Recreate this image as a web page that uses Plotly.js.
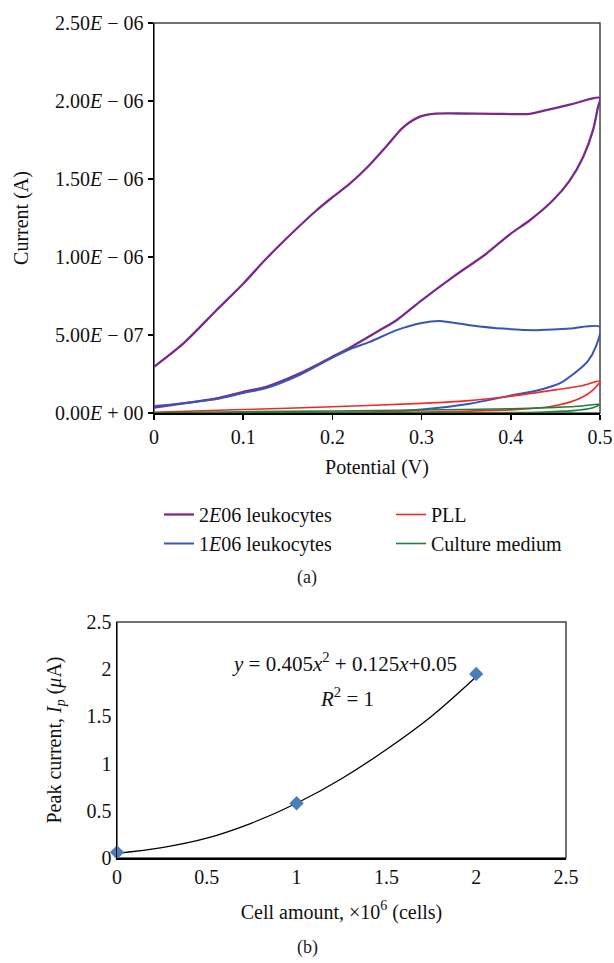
<!DOCTYPE html>
<html>
<head>
<meta charset="utf-8">
<script src="https://cdn.plot.ly/plotly-3.0.1.min.js"></script>
<style>
  html, body { margin: 0; padding: 0; background: #fff; }
  #chart { width: 614px; height: 963px; }
</style>
</head>
<body>
<div id="chart"></div>
<script>
// ---------- Panel (a): cyclic voltammograms (current in µA, labelled in A) ----------
const purpleX = [0, 0.033, 0.07, 0.1, 0.126, 0.1635, 0.2, 0.22, 0.253, 0.272, 0.3, 0.335, 0.3725, 0.4, 0.421, 0.447, 0.466, 0.481, 0.492, 0.4976, 0.5,
                 0.466, 0.436, 0.421, 0.38, 0.34, 0.313, 0.298, 0.279, 0.2606, 0.24, 0.2195, 0.2, 0.182, 0.156, 0.126, 0.1, 0.07, 0.033, 0];
const purpleY = [0.034, 0.062, 0.094, 0.136, 0.168, 0.254, 0.36, 0.42, 0.53, 0.595, 0.722, 0.871, 1.021, 1.15, 1.234, 1.362, 1.49, 1.64, 1.81, 1.958, 2.02,
                 1.976, 1.937, 1.918, 1.918, 1.92, 1.918, 1.9, 1.83, 1.71, 1.58, 1.47, 1.383, 1.298, 1.16, 0.99, 0.829, 0.659, 0.446, 0.296];

const blueX = [0, 0.033, 0.07, 0.1, 0.126, 0.1635, 0.2, 0.22, 0.242, 0.272, 0.3, 0.32, 0.354, 0.391, 0.4286, 0.466, 0.5,
               0.4957, 0.486, 0.468, 0.458, 0.447, 0.435, 0.423, 0.4, 0.354, 0.3, 0.25, 0.15, 0];
const blueY = [0.045, 0.063, 0.09, 0.128, 0.16, 0.245, 0.355, 0.41, 0.456, 0.531, 0.577, 0.59, 0.563, 0.541, 0.531, 0.541, 0.552,
               0.43, 0.33, 0.24, 0.2, 0.173, 0.152, 0.136, 0.112, 0.06, 0.022, 0.006, 0.0, 0.0];

const redX = [0, 0.1, 0.2, 0.3, 0.35, 0.4, 0.45, 0.48, 0.5,
              0.492, 0.473, 0.443, 0.4, 0.3, 0.2, 0];
const redY = [0.005, 0.022, 0.04, 0.062, 0.078, 0.108, 0.148, 0.175, 0.205,
              0.147, 0.083, 0.04, 0.02, 0.006, 0.003, 0.0];

const greenX = [0, 0.1, 0.2, 0.3, 0.4, 0.45, 0.48, 0.5,
                0.49, 0.47, 0.43, 0.35, 0.2, 0];
const greenY = [0.002, 0.008, 0.013, 0.019, 0.027, 0.036, 0.045, 0.056,
                0.03, 0.015, 0.005, 0.001, 0.0, 0.0];

const seriesNames = ['2<i>E</i>06 leukocytes', '1<i>E</i>06 leukocytes', 'PLL', 'Culture medium'];

const potentialTicks = [0, 0.1, 0.2, 0.3, 0.4, 0.5];
const potentialTickText = ['0', '0.1', '0.2', '0.3', '0.4', '0.5'];
const currentTicks = [0, 0.5, 1.0, 1.5, 2.0, 2.5];
const currentTickText = ['0.00<i>E</i> + 00', '5.00<i>E</i> − 07', '1.00<i>E</i> − 06',
                         '1.50<i>E</i> − 06', '2.00<i>E</i> − 06', '2.50<i>E</i> − 06'];

// ---------- Panel (b): peak current vs cell amount ----------
const cellAmount = [0, 1, 2];
const peakCurrent = [0.06, 0.58, 1.95];
// trend line
const trendX = [0, 0.25, 0.5, 0.75, 1, 1.25, 1.5, 1.75, 2];
const trendY = [0.05, 0.11, 0.21, 0.37, 0.58, 0.84, 1.15, 1.5, 1.92];
const cellTicks = [0, 0.5, 1, 1.5, 2, 2.5];
const cellTickText = ['0', '0.5', '1', '1.5', '2', '2.5'];
const peakTicks = [0, 0.5, 1, 1.5, 2, 2.5];
const peakTickText = ['0', '0.5', '1', '1.5', '2', '2.5'];

const FONT = '"Liberation Serif", "DejaVu Serif", serif';
const W = 614, H = 963;
const px = v => v / W;
const py = v => 1 - v / H;

const traces = [
  { x: purpleX, y: purpleY, name: seriesNames[0], type: 'scatter', mode: 'lines',
    line: { color: '#7A2A8C', width: 2.3, shape: 'spline', smoothing: 0.8 }, xaxis: 'x', yaxis: 'y', legend: 'legend' },
  { x: blueX, y: blueY, name: seriesNames[1], type: 'scatter', mode: 'lines',
    line: { color: '#3A55B4', width: 2, shape: 'spline', smoothing: 0.8 }, xaxis: 'x', yaxis: 'y', legend: 'legend' },
  { x: redX, y: redY, name: seriesNames[2], type: 'scatter', mode: 'lines',
    line: { color: '#F0282A', width: 1.6, shape: 'spline', smoothing: 0.8 }, xaxis: 'x', yaxis: 'y', legend: 'legend2' },
  { x: greenX, y: greenY, name: seriesNames[3], type: 'scatter', mode: 'lines',
    line: { color: '#1F7F3A', width: 1.6, shape: 'spline', smoothing: 0.8 }, xaxis: 'x', yaxis: 'y', legend: 'legend2' },
  { x: trendX, y: trendY, type: 'scatter', mode: 'lines', showlegend: false,
    line: { color: '#000', width: 1.3, shape: 'spline' }, xaxis: 'x2', yaxis: 'y2' },
  { x: cellAmount, y: peakCurrent, type: 'scatter', mode: 'markers', showlegend: false,
    marker: { symbol: 'diamond', size: 11, color: '#4A7EBB' }, cliponaxis: false,
    xaxis: 'x2', yaxis: 'y2' }
];

const axisFont = { family: FONT, size: 20, color: '#111' };

const layout = {
  width: W, height: H,
  margin: { l: 0, r: 0, t: 0, b: 0 },
  paper_bgcolor: '#fff', plot_bgcolor: '#fff',
  font: { family: FONT, size: 20, color: '#111' },
  xaxis: {
    domain: [px(154), px(600)], anchor: 'y', range: [0, 0.5],
    tickvals: potentialTicks, ticktext: potentialTickText,
    ticks: 'outside', ticklen: 5, tickwidth: 1.5, tickcolor: '#000',
    showline: true, linecolor: '#000', linewidth: 1.5, showgrid: false, zeroline: false,
    tickfont: axisFont,
    title: { text: 'Potential (V)', font: axisFont, standoff: 13 }
  },
  yaxis: {
    domain: [py(413), py(23)], anchor: 'x', range: [0, 2.5],
    tickvals: currentTicks, ticktext: currentTickText,
    ticks: 'outside', ticklen: 5, tickwidth: 1.5, tickcolor: '#000',
    showline: true, linecolor: '#000', linewidth: 1.5, showgrid: false, zeroline: false,
    tickfont: axisFont,
    title: { text: 'Current (A)', font: axisFont, standoff: 21 }
  },
  xaxis2: {
    domain: [px(117), px(566)], anchor: 'y2', range: [0, 2.5],
    tickvals: cellTicks, ticktext: cellTickText, ticks: '',
    showline: true, linecolor: '#000', linewidth: 1.5, showgrid: false, zeroline: false,
    tickfont: axisFont,
    title: { text: 'Cell amount, ×10<sup>6</sup> (cells)', font: axisFont, standoff: 18 }
  },
  yaxis2: {
    domain: [py(858), py(622)], anchor: 'x2', range: [0, 2.5],
    tickvals: peakTicks, ticktext: peakTickText, ticks: '',
    showline: true, linecolor: '#000', linewidth: 1.5, showgrid: false, zeroline: false,
    tickfont: axisFont,
    title: { text: 'Peak current, <i>I<sub>p</sub></i> (<i>μ</i>A)', font: axisFont, standoff: 19 }
  },
  legend: {
    x: px(159), y: py(495), xanchor: 'left', yanchor: 'top',
    orientation: 'v', bgcolor: 'rgba(0,0,0,0)', font: { family: FONT, size: 20, color: '#111' },
    itemwidth: 30, tracegroupgap: 0
  },
  legend2: {
    x: px(391), y: py(495), xanchor: 'left', yanchor: 'top',
    orientation: 'v', bgcolor: 'rgba(0,0,0,0)', font: { family: FONT, size: 20, color: '#111' },
    itemwidth: 30, tracegroupgap: 0
  },
  shapes: [
    { type: 'rect', xref: 'x domain', yref: 'y domain', x0: 0, x1: 1, y0: 0, y1: 1,
      line: { color: '#444', width: 1.5 }, layer: 'below' },
    { type: 'rect', xref: 'x2 domain', yref: 'y2 domain', x0: 0, x1: 1, y0: 0, y1: 1,
      line: { color: '#444', width: 1.5 }, layer: 'below' }
  ],
  annotations: [
    { text: '(a)', xref: 'paper', yref: 'paper', x: px(307), y: py(577), yanchor: 'middle', xanchor: 'center',
      showarrow: false, font: { family: FONT, size: 18, color: '#222' } },
    { text: '(b)', xref: 'paper', yref: 'paper', x: px(307), y: py(947), yanchor: 'middle', xanchor: 'center',
      showarrow: false, font: { family: FONT, size: 18, color: '#222' } },
    { text: '<i>y</i> = 0.405<i>x</i><sup>2</sup> + 0.125<i>x</i>+0.05', xref: 'paper', yref: 'paper',
      x: px(344), y: py(662), yanchor: 'middle', xanchor: 'center',
      showarrow: false, font: { family: FONT, size: 21, color: '#111' } },
    { text: '<i>R</i><sup>2</sup> = 1', xref: 'paper', yref: 'paper',
      x: px(347), y: py(697), yanchor: 'middle', xanchor: 'center',
      showarrow: false, font: { family: FONT, size: 21, color: '#111' } }
  ]
};

Plotly.newPlot('chart', traces, layout, { displayModeBar: false, staticPlot: true });
</script>
</body>
</html>
